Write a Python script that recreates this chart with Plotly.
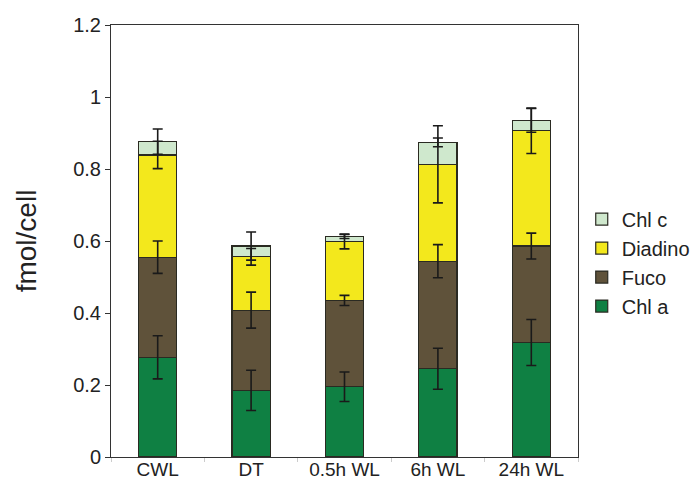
import plotly.graph_objects as go

categories = ["CWL", "DT", "0.5h WL", "6h WL", "24h WL"]

chl_a = [0.277, 0.185, 0.195, 0.245, 0.318]
fuco = [0.278, 0.223, 0.240, 0.299, 0.268]
diadino = [0.284, 0.148, 0.163, 0.269, 0.320]
chl_c = [0.037, 0.030, 0.015, 0.061, 0.029]

chl_a_err = [0.060, 0.056, 0.041, 0.057, 0.064]
fuco_err = [0.045, 0.050, 0.014, 0.046, 0.036]
diadino_err = [0.038, 0.023, 0.020, 0.107, 0.063]
chl_c_err = [0.035, 0.039, 0.006, 0.012, 0.033]

series = [
    ("Chl a", chl_a, chl_a_err, "#0f8043"),
    ("Fuco", fuco, fuco_err, "#5f523a"),
    ("Diadino", diadino, diadino_err, "#f3e81c"),
    ("Chl c", chl_c, chl_c_err, "#cfe8cd"),
]

fig = go.Figure()
for name, vals, errs, color in series:
    fig.add_trace(go.Bar(
        x=categories, y=vals, name=name, legendgroup=name,
        marker=dict(color=color, line=dict(color="#2a2a22", width=1.2)),
    ))

# error bars drawn on top of the stacked segments
cum = [0.0] * len(categories)
for name, vals, errs, color in series:
    cum = [c + v for c, v in zip(cum, vals)]
    fig.add_trace(go.Scatter(
        x=categories, y=cum, mode="markers", showlegend=False,
        marker=dict(size=1, color="rgba(0,0,0,0)"),
        error_y=dict(type="data", array=errs, visible=True,
                     color="#1a1a1a", thickness=1.6, width=5),
        hoverinfo="skip",
    ))

font_family = "Liberation Sans, Arial, sans-serif"
fig.update_layout(
    barmode="stack",
    bargap=0.59,
    width=699, height=482,
    margin=dict(l=103, r=119, t=17, b=33),
    paper_bgcolor="white", plot_bgcolor="white",
    font=dict(family=font_family, size=20, color="#222222"),
    showlegend=True,
    legend=dict(traceorder="reversed", x=1.008, xanchor="left",
                y=0.45, yanchor="middle", font=dict(size=20, color="#222222"),
                itemwidth=30, tracegroupgap=5, bgcolor="rgba(0,0,0,0)"),
    xaxis=dict(showline=True, linecolor="#333333", linewidth=1, mirror=True,
               ticks="outside", tickson="boundaries", ticklen=4,
               tickcolor="#cccccc", tickfont=dict(size=19, color="#222222"),
               ticklabelstandoff=-5, automargin=False),
    yaxis=dict(range=[0, 1.2], dtick=0.2, showline=True, linecolor="#333333",
               linewidth=1, mirror=True, ticks="outside", ticklen=5,
               tickcolor="#333333", showgrid=False, zeroline=False,
               tickfont=dict(size=20, color="#222222"), automargin=False,
               title=dict(text="fmol/cell", font=dict(size=28, color="#222222"),
                          standoff=28)),
)

fig.write_html("out.html")
